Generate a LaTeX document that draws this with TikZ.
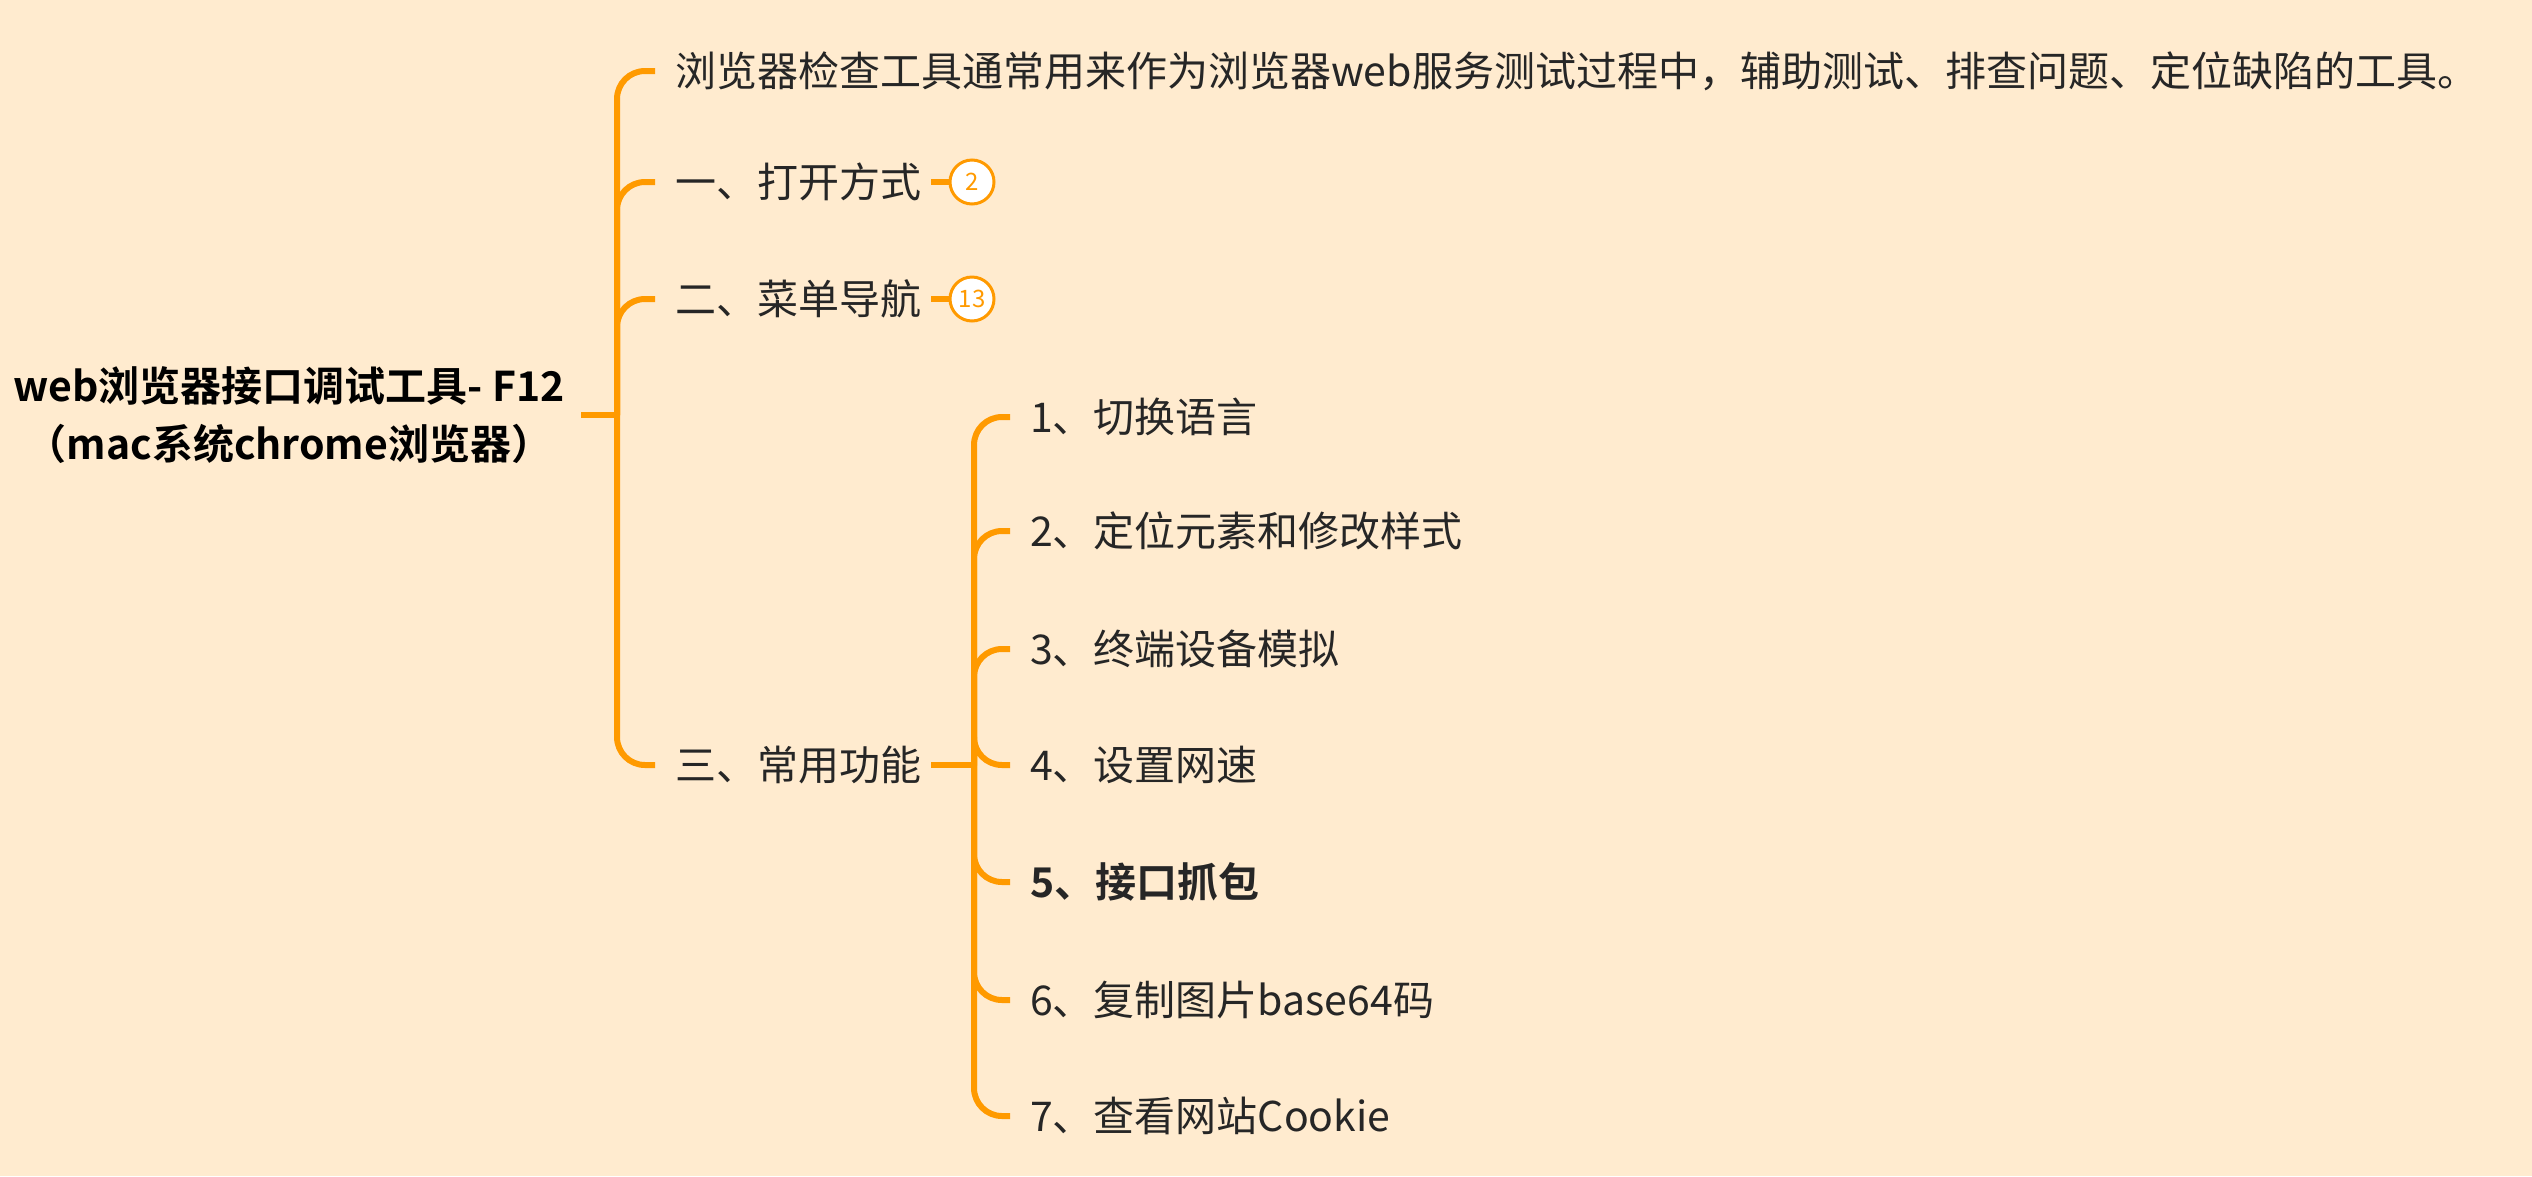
\documentclass[tikz,border=0pt]{standalone}
\usepackage{fontspec}
\setmainfont{Noto Sans CJK SC}
\newfontfamily\rootfont{Noto Sans CJK SC Bold}
\usetikzlibrary{positioning}
\definecolor{bgcol}{HTML}{FFEBCF}
\definecolor{linecol}{HTML}{FF9A00}
\tikzset{
  leaf/.style={anchor=west,inner xsep=20pt,inner ysep=0pt,font=\fontsize{41}{48}\selectfont,text=black!85},
  branch/.style={draw=linecol,line width=6pt,rounded corners=28pt},
  badge/.style={circle,draw=linecol,line width=3pt,fill=white,minimum size=44pt,inner sep=0pt,text=linecol,font=\fontsize{24}{24}\selectfont},
}
\begin{document}
\begin{tikzpicture}[x=1pt,y=-1pt]
\fill[bgcol] (0,0) rectangle (2532,1176);
\useasboundingbox (0,0) rectangle (2532,1176);
% root
\node[align=center,font=\rootfont\fontsize{41}{58}\selectfont] (root) at (289,415)
  {web浏览器接口调试工具- F12\\（mac系统chrome浏览器）};
\coordinate (hub) at (617,415);
\coordinate (rootout) at (581,415);
% first level
\node[leaf] (intro) at (655,71) {浏览器检查工具通常用来作为浏览器web服务测试过程中，辅助测试、排查问题、定位缺陷的工具。};
\node[leaf] (open) at (655,182) {一、打开方式};
\node[leaf] (menu) at (655,299) {二、菜单导航};
\node[leaf] (func) at (655,765) {三、常用功能};
\node[badge] (n2) at (972,182) {2};
\node[badge] (n13) at (972,299) {13};
\draw[branch] (rootout) -- (hub);
\foreach \c in {intro,open,menu,func}
  \draw[branch] (hub) |- (\c.west);
\draw[branch] ([xshift=-10pt]open.east) -- (n2);
\draw[branch] ([xshift=-10pt]menu.east) -- (n13);
% second level
\coordinate (sub) at (974,765);
\node[leaf] (f1) at (1010,417) {1、切换语言};
\node[leaf] (f2) at (1010,531) {2、定位元素和修改样式};
\node[leaf] (f3) at (1010,649) {3、终端设备模拟};
\node[leaf] (f4) at (1010,765) {4、设置网速};
\node[leaf,font=\rootfont\fontsize{41}{48}\selectfont] (f5) at (1010,882) {5、接口抓包};
\node[leaf] (f6) at (1010,1000) {6、复制图片base64码};
\node[leaf] (f7) at (1010,1116) {7、查看网站Cookie};
\draw[branch] ([xshift=-10pt]func.east) -- (sub);
\foreach \c in {f1,f2,f3,f4,f5,f6,f7}
  \draw[branch] (sub) |- (\c.west);
\end{tikzpicture}
\end{document}
